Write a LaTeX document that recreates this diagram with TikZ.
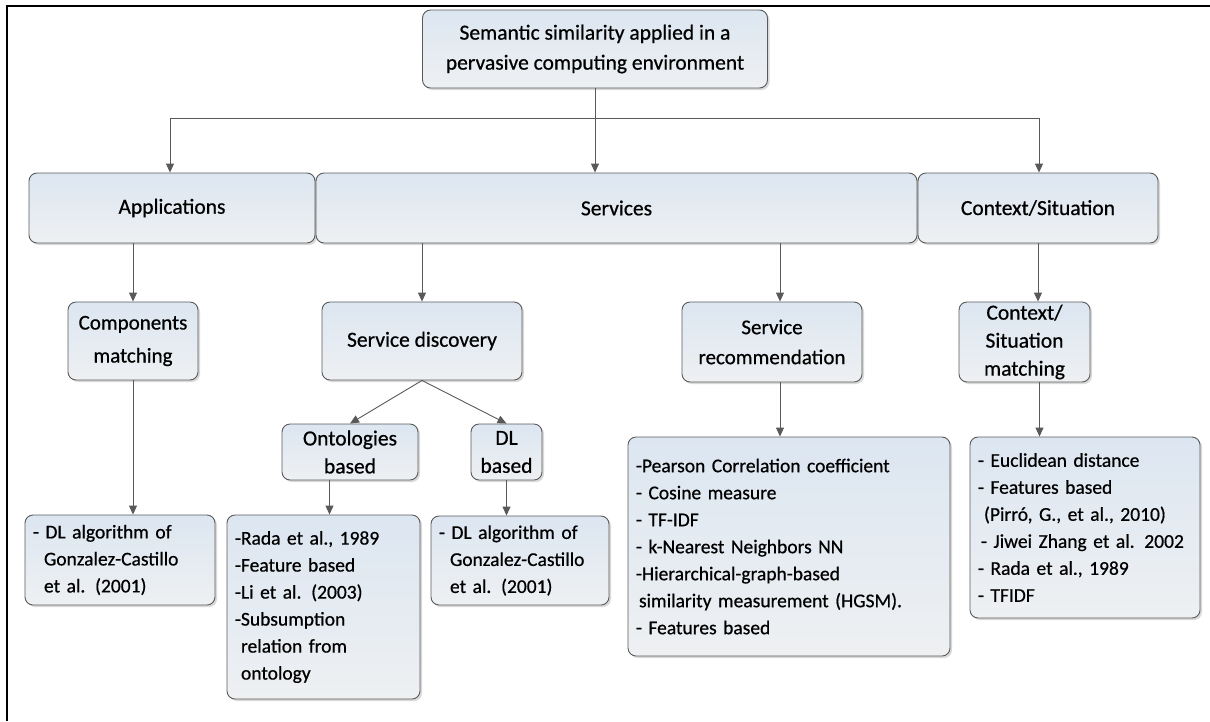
\documentclass[tikz,border=0pt]{standalone}
\usepackage{fontspec}
\setmainfont{Carlito}[FakeBold=0.6]
\usetikzlibrary{arrows.meta,shadows}
\definecolor{boxtop}{HTML}{DCE6F1}
\definecolor{boxbot}{HTML}{EEF0F2}
\definecolor{edgec}{HTML}{5A5A5A}
\definecolor{linkc}{HTML}{595959}

\tikzset{
  box/.style={draw=edgec, line width=0.9pt, rounded corners=8pt,
    top color=boxtop, bottom color=boxbot,
    drop shadow={shadow xshift=2pt, shadow yshift=-2pt, fill=black, opacity=0.15},
    align=center, inner sep=0pt, font=\fontsize{21.5}{28}\selectfont},
  listbox/.style={box, align=left, inner xsep=8pt, font=\fontsize{19.5}{27}\selectfont},
  link/.style={draw=linkc, line width=0.9pt, -{Triangle[length=9pt,width=8pt]}},
  bus/.style={draw=linkc, line width=0.9pt},
}

\begin{document}
\begin{tikzpicture}[x=1pt,y=-1pt]
\useasboundingbox (0,0) rectangle (1210,721);
% page frame
\draw[line width=2.2pt] (7,721) -- (7,6) -- (1210,6);

% root
\node[box, minimum width=345pt, minimum height=78pt, font=\fontsize{21.5}{30}\selectfont] (root) at (595,49)
  {Semantic similarity applied in a\\pervasive computing environment};

% second level
\node[box, minimum width=286pt, minimum height=70pt] (app)  at (172,208)   {Applications};
\node[box, minimum width=601pt, minimum height=70pt] (serv) at (616.5,208) {Services};
\node[box, minimum width=240pt, minimum height=70pt] (ctx)  at (1038,208)  {Context/Situation};

% third level
\node[box, minimum width=130pt, minimum height=78pt, font=\fontsize{21}{33}\selectfont] (comp) at (133,341) {Components\\matching};
\node[box, minimum width=200pt, minimum height=78pt] (disc) at (422,341)    {Service discovery};
\node[box, minimum width=180pt, minimum height=80pt, font=\fontsize{21}{30}\selectfont] (rec) at (772,342) {Service\\recommendation};
\node[box, minimum width=131pt, minimum height=80pt] (cm)   at (1024.5,342) {Context/\\Situation\\matching};

% discovery approaches
\node[box, minimum width=136pt, minimum height=56pt] (onto) at (350,452)   {Ontologies\\based};
\node[box, minimum width=71pt,  minimum height=56pt] (dl)   at (506.5,452) {DL\\based};

% measure lists
\node[listbox, text width=174pt, minimum height=90pt] (clist) at (120,560)
  {- DL algorithm of\\\hspace*{11pt}Gonzalez-Castillo\\\hspace*{11pt}et al. (2001)};
\node[listbox, text width=177pt, minimum height=184pt] (olist) at (323.5,607)
  {-Rada et al., 1989\\-Feature based\\-Li et al. (2003)\\-Subsumption\\\hspace*{6pt}relation from\\\hspace*{6pt}ontology};
\node[listbox, text width=162pt, minimum height=89pt] (dlist) at (520,560.5)
  {- DL algorithm of\\\hspace*{11pt}Gonzalez-Castillo\\\hspace*{11pt}et al. (2001)};
\node[listbox, text width=306pt, minimum height=219pt] (rlist) at (789,546.5)
  {-Pearson Correlation coefficient\\- Cosine measure\\- TF-IDF\\- k-Nearest Neighbors NN\\-Hierarchical-graph-based\\\hspace*{3pt}similarity measurement (HGSM).\\- Features based};
\node[listbox, text width=214pt, minimum height=181pt] (xlist) at (1085,527.5)
  {- Euclidean distance\\- Features based\\\hspace*{6pt}(Pirró, G., et al., 2010)\\\hspace*{3pt}- Jiwei Zhang et al. 2002\\- Rada et al., 1989\\- TFIDF};

% root fan-out
\coordinate (busL) at (170,118);
\coordinate (busR) at (1039,118);
\draw[bus] (busL) -- (busR);
\draw[link] (root.south) -- (root.south |- serv.north);
\draw[link] (busL) -- (busL |- app.north);
\draw[link] (busR) -- (busR |- ctx.north);

% second to third level
\draw[link] (app.south -| comp.north) -- (comp.north);
\draw[link] (serv.south -| disc.north) -- (disc.north);
\draw[link] ([xshift=8pt]serv.south -| rec.north) -- ([xshift=8pt]rec.north);
\draw[link] (ctx.south) -- (ctx.south |- cm.north);

% discovery split
\draw[link] (disc.south) -- (onto.north);
\draw[link] (disc.south) -- (dl.north);

% down to the lists
\draw[link] (comp.south) -- (comp.south |- clist.north);
\draw[link] ([xshift=6pt]olist.north |- onto.south) -- ([xshift=6pt]olist.north);
\draw[link] (dl.south) -- (dl.south |- dlist.north);
\draw[link] ([xshift=8pt]rec.south) -- ([xshift=8pt]rec.south |- rlist.north);
\draw[link] ([xshift=15pt]cm.south) -- ([xshift=15pt]cm.south |- xlist.north);
\end{tikzpicture}
\end{document}
